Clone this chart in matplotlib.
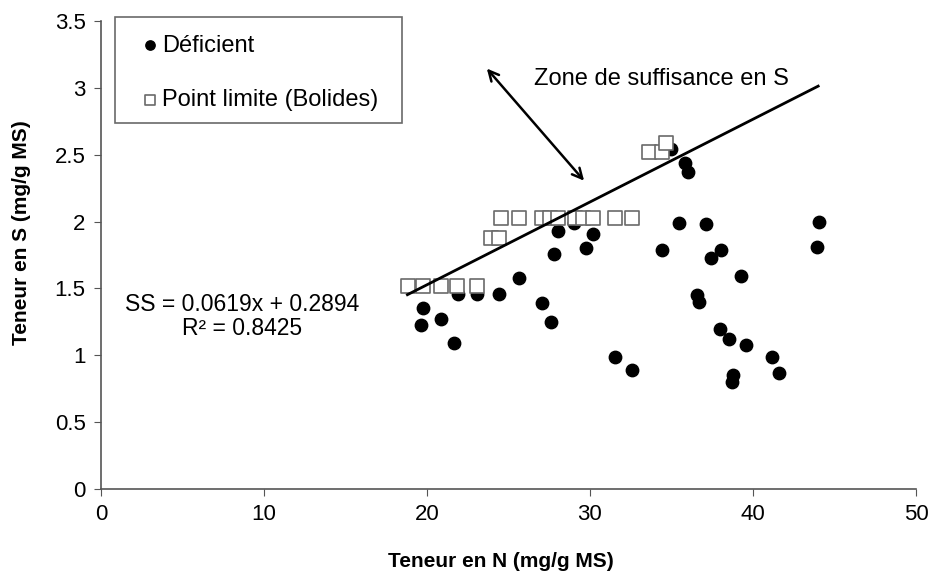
import numpy as np
import matplotlib
matplotlib.use("Agg")
import matplotlib.pyplot as plt
from matplotlib.patches import Rectangle

plt.rcParams['font.family'] = ['Liberation Sans', 'DejaVu Sans']

# Deficient points (N, S)
def_n = [34.97, 35.83, 36.01, 35.46, 37.12, 34.42, 38.04, 37.42, 39.26, 36.56,
         36.69, 37.98, 38.53, 39.57, 41.17, 41.60, 38.77, 38.71, 44.05, 43.93,
         31.53, 32.58, 28.04, 29.02, 30.18, 27.79, 29.75, 25.64, 27.06, 27.61,
         21.90, 23.07, 24.42, 19.75, 19.63, 20.86, 21.66]
def_s = [2.54, 2.44, 2.37, 1.99, 1.98, 1.79, 1.79, 1.73, 1.59, 1.45,
         1.40, 1.20, 1.12, 1.08, 0.99, 0.87, 0.85, 0.80, 2.00, 1.81,
         0.99, 0.89, 1.93, 1.99, 1.91, 1.76, 1.80, 1.58, 1.39, 1.25,
         1.46, 1.46, 1.46, 1.35, 1.23, 1.27, 1.09]

# boundary points (Bolides)
lim_n = [18.83, 19.75, 20.86, 21.84, 23.07,
         23.93, 24.42,
         24.54, 25.64, 27.06, 27.55, 28.04, 29.08, 29.57, 30.18, 31.53, 32.58,
         33.62, 34.42, 34.66]
lim_s = [1.52, 1.52, 1.52, 1.52, 1.52,
         1.88, 1.88,
         2.03, 2.03, 2.03, 2.03, 2.03, 2.03, 2.03, 2.03, 2.03, 2.03,
         2.52, 2.52, 2.59]

slope = 0.0619
intercept = 0.2894
r2 = 0.8425
trend_n = [18.8, 44.0]

fig = plt.figure(figsize=(9.36, 5.82), dpi=100)
ax = fig.add_axes([0.1079, 0.1598, 0.8707, 0.8041])

ax.scatter(def_n, def_s, s=80, color='black', marker='o', zorder=2, label='Déficient')
ax.scatter(lim_n, lim_s, s=90, facecolor='white', edgecolor='#6a6a6a', marker='s',
           linewidths=1.2, zorder=3, label='Point limite (Bolides)')

tx = np.array(trend_n)
ax.plot(tx, slope * tx + intercept, color='black', lw=2, zorder=4)

ax.annotate('', xy=(23.56, 3.16), xytext=(29.75, 2.29),
            arrowprops=dict(arrowstyle='<->', color='black', lw=1.8, mutation_scale=18))
ax.text(26.56, 3.07, 'Zone de suffisance en S', fontsize=17, va='center', ha='left')
ax.text(8.65, 1.29, 'SS = %.4fx + %.4f\nR² = %.4f' % (slope, intercept, r2),
        fontsize=16.5, ha='center', va='center', multialignment='center', linespacing=1.1)

ax.set_xlim(0, 50)
ax.set_ylim(0, 3.5)
ax.set_xticks(np.arange(0, 51, 10))
ax.set_yticks(np.arange(0, 3.51, 0.5))
ax.set_yticklabels(['0', '0.5', '1', '1.5', '2', '2.5', '3', '3.5'])
ax.tick_params(labelsize=16, direction='out', length=5, color='#555555', pad=6)
for sp in ['top', 'right']:
    ax.spines[sp].set_visible(False)
for sp in ['left', 'bottom']:
    ax.spines[sp].set_color('#555555')
    ax.spines[sp].set_linewidth(1.2)

fig.text(0.535, 0.035, 'Teneur en N (mg/g MS)', fontsize=15, fontweight='bold',
         ha='center', va='center')
fig.text(0.0235, 0.601, 'Teneur en S (mg/g MS)', fontsize=15, fontweight='bold',
         ha='center', va='center', rotation=90)

# legend box
ax.add_patch(Rectangle((115 / 936, 1 - 123 / 582), 287 / 936, 106 / 582,
                       transform=fig.transFigure, facecolor='white', clip_on=False,
                       edgecolor='#6a6a6a', lw=1.2, zorder=5))
leg = ax.legend(loc='upper left', bbox_to_anchor=(124 / 936, 1 - 18 / 582),
                bbox_transform=fig.transFigure, frameon=False, fontsize=17,
                markerscale=0.75, handlelength=0.8, handletextpad=0.1,
                labelspacing=1.38, borderpad=0.2)
leg.set_zorder(6)

fig.savefig('out.png', dpi=100)
